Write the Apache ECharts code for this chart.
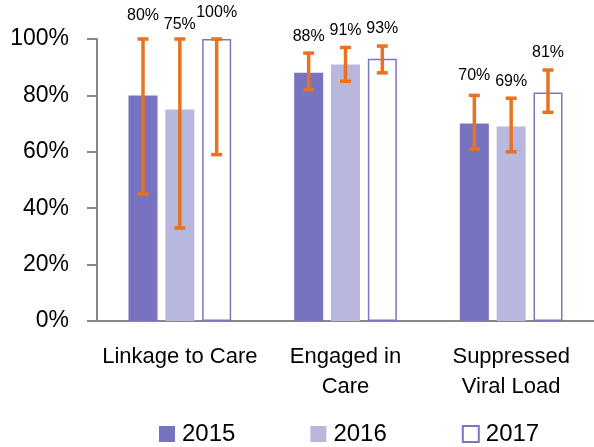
<!DOCTYPE html>
<html>
<head>
<meta charset="utf-8">
<script src="https://cdn.jsdelivr.net/npm/echarts@6/dist/echarts.min.js"></script>
<style>
  html, body { margin: 0; padding: 0; background: #fff; }
  #chart { width: 594px; height: 447px; }
</style>
</head>
<body>
<div id="chart"></div>
<script>
// data (percent)
var categories = ['Linkage to Care', 'Engaged in\nCare', 'Suppressed\nViral Load'];
var years = ['2015', '2016', '2017'];
var values2015 = [80, 88, 70];
var values2016 = [75, 91, 69];
var values2017 = [100, 93, 81];
// error bars: [low, high]
var err2015 = [[45, 100], [82, 95], [61, 80]];
var err2016 = [[33, 100], [85, 97], [60, 79]];
var err2017 = [[59, 100], [88, 97.5], [74, 89]];
var yTicks = [0, 20, 40, 60, 80, 100];

// label nudges in px (style only, the first group's labels are staggered)
var nudges = [[6, 0, 3], [-3, 0, 0], [9, 0, 0]];

var FONT = 'Liberation Sans';
var BAR_W = 29;
var BAR_GAP = 0.27;
var ORANGE = '#e8721e';

var chart = echarts.init(document.getElementById('chart'));

function errSeries(idx, vals, errs) {
  var step = BAR_W * (1 + BAR_GAP);
  var offset = (idx - 1) * step;
  return {
    type: 'custom',
    name: 'err' + idx,
    z: 10,
    silent: true,
    data: errs.map(function (e, i) { return [i, e[0], e[1], vals[i]]; }),
    encode: { x: 0, y: [1, 2] },
    renderItem: function (params, api) {
      var lo = api.coord([api.value(0), api.value(1)]);
      var hi = api.coord([api.value(0), api.value(2)]);
      var x = lo[0] + offset;
      var cap = 5.5;
      var lineStyle = { stroke: ORANGE, lineWidth: 3.5 };
      var lift = 9 + nudges[idx][params.dataIndex];
      return {
        type: 'group',
        children: [
          { type: 'line', shape: { x1: x, y1: lo[1], x2: x, y2: hi[1] }, style: lineStyle },
          { type: 'line', shape: { x1: x - cap, y1: lo[1], x2: x + cap, y2: lo[1] }, style: lineStyle },
          { type: 'line', shape: { x1: x - cap, y1: hi[1], x2: x + cap, y2: hi[1] }, style: lineStyle },
          { type: 'text', x: x, y: hi[1] - lift,
            style: { text: api.value(3) + '%', fill: '#000', font: '16px "' + FONT + '"',
                     align: 'center', verticalAlign: 'bottom' } }
        ]
      };
    }
  };
}

var option = {
  animation: false,
  textStyle: { fontFamily: FONT },
  grid: { left: 97, right: 0, top: 39, bottom: 126, containLabel: false },
  legend: {
    data: years,
    left: 154,
    top: 417,
    itemWidth: 16,
    itemHeight: 16,
    itemGap: 75,
    icon: 'rect',
    textStyle: { fontSize: 24, color: '#000', fontFamily: FONT, padding: [0, 0, 0, 2] }
  },
  xAxis: {
    type: 'category',
    data: categories,
    axisLine: { lineStyle: { color: '#888', width: 2 } },
    axisTick: { show: false },
    axisLabel: { fontSize: 22, color: '#000', lineHeight: 30, margin: 21, interval: 0 }
  },
  yAxis: {
    type: 'value',
    min: 0,
    max: 100,
    interval: 20,
    splitLine: { show: false },
    axisLine: { show: true, lineStyle: { color: '#888', width: 2 } },
    axisTick: { show: true, length: 10, lineStyle: { color: '#888', width: 2 } },
    axisLabel: {
      fontSize: 23, color: '#000', margin: 28,
      formatter: function (v) { return yTicks.indexOf(v) >= 0 ? v + '%' : ''; }
    }
  },
  series: [
    { name: '2015', type: 'bar', data: values2015, barWidth: BAR_W, barGap: (BAR_GAP * 100) + '%',
      itemStyle: { color: '#7873c0' } },
    { name: '2016', type: 'bar', data: values2016, barWidth: BAR_W,
      itemStyle: { color: '#b8b7de' } },
    { name: '2017', type: 'bar', data: values2017, barWidth: BAR_W,
      itemStyle: { color: '#fff', borderColor: '#7a75c5', borderWidth: 1.5 } },
    errSeries(0, values2015, err2015),
    errSeries(1, values2016, err2016),
    errSeries(2, values2017, err2017)
  ]
};

chart.setOption(option);
</script>
</body>
</html>
